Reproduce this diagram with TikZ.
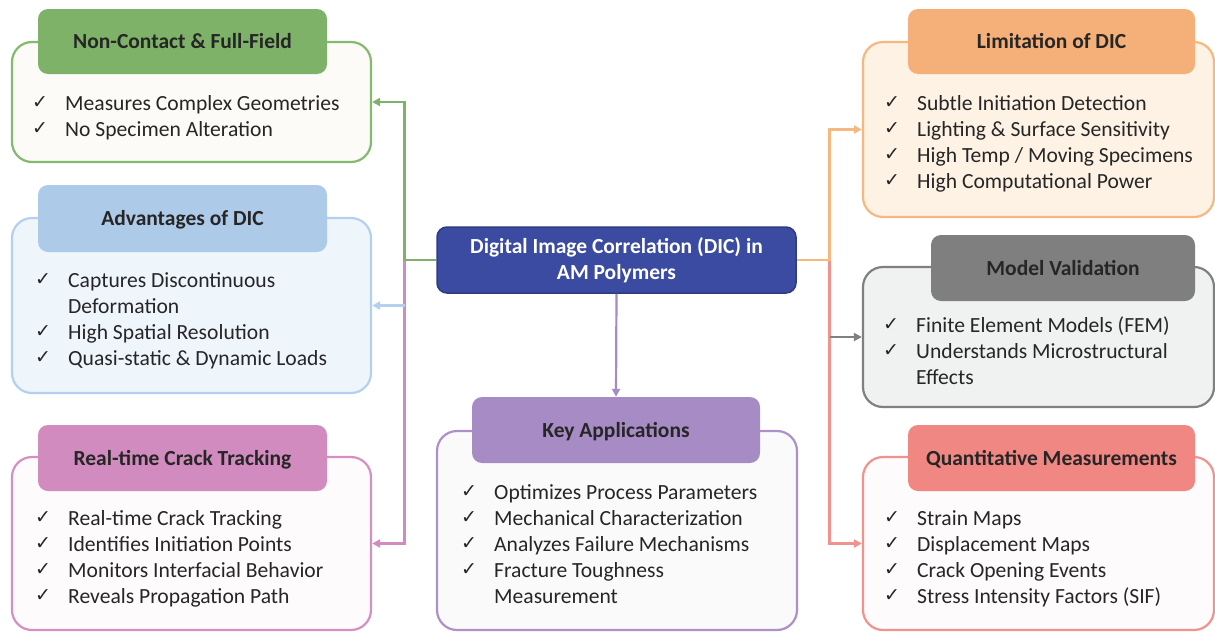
\documentclass[tikz,border=0pt]{standalone}
\usepackage{fontspec}
\setmainfont{Carlito}
\newfontfamily\dejavu{DejaVu Sans}
\usetikzlibrary{arrows.meta}
\definecolor{txt}{HTML}{262626}
\definecolor{gH}{HTML}{7DB268}\definecolor{gB}{HTML}{84B970}\definecolor{gF}{HTML}{FCFBF7}
\definecolor{bH}{HTML}{ADCAE9}\definecolor{bB}{HTML}{B3D1EE}\definecolor{bF}{HTML}{EEF5FB}
\definecolor{pH}{HTML}{D18BBE}\definecolor{pB}{HTML}{D590C2}\definecolor{pF}{HTML}{FDFBFC}
\definecolor{kH}{HTML}{A68BC4}\definecolor{kB}{HTML}{AB90CA}\definecolor{kF}{HTML}{FBFAFB}
\definecolor{oH}{HTML}{F4B078}\definecolor{oB}{HTML}{F6B87F}\definecolor{oF}{HTML}{FDF2E4}
\definecolor{mH}{HTML}{7F7F80}\definecolor{mB}{HTML}{808080}\definecolor{mF}{HTML}{F0F1F1}
\definecolor{rH}{HTML}{F08783}\definecolor{rB}{HTML}{F2928F}\definecolor{rF}{HTML}{FDFBFB}
\definecolor{cF}{HTML}{3A4BA1}\definecolor{cB}{HTML}{2E3C80}
\newcommand\ck{\makebox[33pt][l]{\raisebox{1.5pt}{\dejavu\fontsize{19}{19}\selectfont ✓}}}
\newcommand\ckb{\makebox[33pt][l]{}}
\newcommand\itemlist[1]{\begin{tabular}[t]{@{}l@{}}#1\end{tabular}}
\begin{document}
\begin{tikzpicture}[x=1pt,y=-1pt,
  outer/.style 2 args={draw=#1,fill=#2,line width=2.2pt,rounded corners=20pt,inner sep=0pt},
  header/.style={fill=#1,rounded corners=10pt,inner sep=0pt,text=txt,
     font=\bfseries\fontsize{21.5}{26}\selectfont,text height=14pt,text depth=0pt},
  body/.style={anchor=base west,inner sep=0pt,text=txt,font=\fontsize{21.6}{26}\selectfont},
  conn/.style={draw=#1,line width=2.2pt,-{Triangle[length=8pt,width=8pt]}}]
\useasboundingbox (0,0) rectangle (1215,632);
\clip (0,0) rectangle (1215,632);
% central node
\node[draw=cB,fill=cF,line width=1.5pt,rounded corners=10pt,minimum width=359pt,minimum height=66pt,
  align=center,text=white,font=\bfseries\fontsize{21.5}{26}\selectfont] (dic) at (616.5,260)
  {Digital Image Correlation (DIC) in\\AM Polymers};
% left column
\node[outer={gB}{gF},minimum width=359pt,minimum height=120pt] (gbox) at (191.5,102) {};
\node[header=gH,minimum width=289pt,minimum height=65pt] (ghead) at (182.5,41.5) {Non-Contact \& Full-Field};
\node[body] (gtext) at (32,110) {\itemlist{\ck Measures Complex Geometries\\ \ck No Specimen Alteration}};

\node[outer={bB}{bF},minimum width=359pt,minimum height=175pt] (bbox) at (191.5,305.5) {};
\node[header=bH,minimum width=289pt,minimum height=67pt] (bhead) at (182.5,218.5) {Advantages of DIC};
\node[body] (btext) at (35,287) {\itemlist{\ck Captures Discontinuous\\ \ckb Deformation\\ \ck High Spatial Resolution\\ \ck Quasi-static \& Dynamic Loads}};

\node[outer={pB}{pF},minimum width=359pt,minimum height=173pt] (pbox) at (191.5,543.5) {};
\node[header=pH,minimum width=289pt,minimum height=66pt] (phead) at (182.5,458) {Real-time Crack Tracking};
\node[body] (ptext) at (35,525) {\itemlist{\ck Real-time Crack Tracking\\ \ck Identifies Initiation Points\\ \ck Monitors Interfacial Behavior\\ \ck Reveals Propagation Path}};
% middle
\node[outer={kB}{kF},minimum width=360pt,minimum height=199pt] (kbox) at (617,530.5) {};
\node[header=kH,minimum width=288pt,minimum height=66pt] (khead) at (616,430) {Key Applications};
\node[body] (ktext) at (461,499) {\itemlist{\ck Optimizes Process Parameters\\ \ck Mechanical Characterization\\ \ck Analyzes Failure Mechanisms\\ \ck Fracture Toughness\\ \ckb Measurement}};
% right column
\node[outer={oB}{oF},minimum width=351pt,minimum height=175pt] (obox) at (1038.5,129.5) {};
\node[header=oH,minimum width=287pt,minimum height=65pt] (ohead) at (1051.5,41.5) {Limitation of DIC};
\node[body] (otext) at (884,110) {\itemlist{\ck Subtle Initiation Detection\\ \ck Lighting \& Surface Sensitivity\\ \ck High Temp / Moving Specimens\\ \ck High Computational Power}};

\node[outer={mB}{mF},minimum width=351pt,minimum height=140pt] (mbox) at (1038.5,337) {};
\node[header=mH,minimum width=264pt,minimum height=66pt] (mhead) at (1063,268) {Model Validation};
\node[body] (mtext) at (883,332) {\itemlist{\ck Finite Element Models (FEM)\\ \ck Understands Microstructural\\ \ckb Effects}};

\node[outer={rB}{rF},minimum width=351pt,minimum height=173pt] (rbox) at (1038.5,543.5) {};
\node[header=rH,minimum width=287pt,minimum height=66pt] (rhead) at (1051.5,458) {Quantitative Measurements};
\node[body] (rtext) at (884,525) {\itemlist{\ck Strain Maps\\ \ck Displacement Maps\\ \ck Crack Opening Events\\ \ck Stress Intensity Factors (SIF)}};
% connectors
\coordinate (jl) at (404.5,260);
\coordinate (jr) at (829.5,260);
\draw[conn=pH] (jl) |- (pbox.east);
\draw[conn=bB] (jl |- bbox.east) -- (bbox.east);
\draw[conn=gH] (dic.west) -- (jl) |- (gbox.east);
\draw[conn=rB] (jr) |- (rbox.west);
\draw[conn=mB] (jr |- mbox.west) -- (mbox.west);
\draw[conn=oB] (dic.east) -- (jr) |- (obox.west);
\draw[conn=kH] (dic.south) -- (khead.north);
\end{tikzpicture}
\end{document}
